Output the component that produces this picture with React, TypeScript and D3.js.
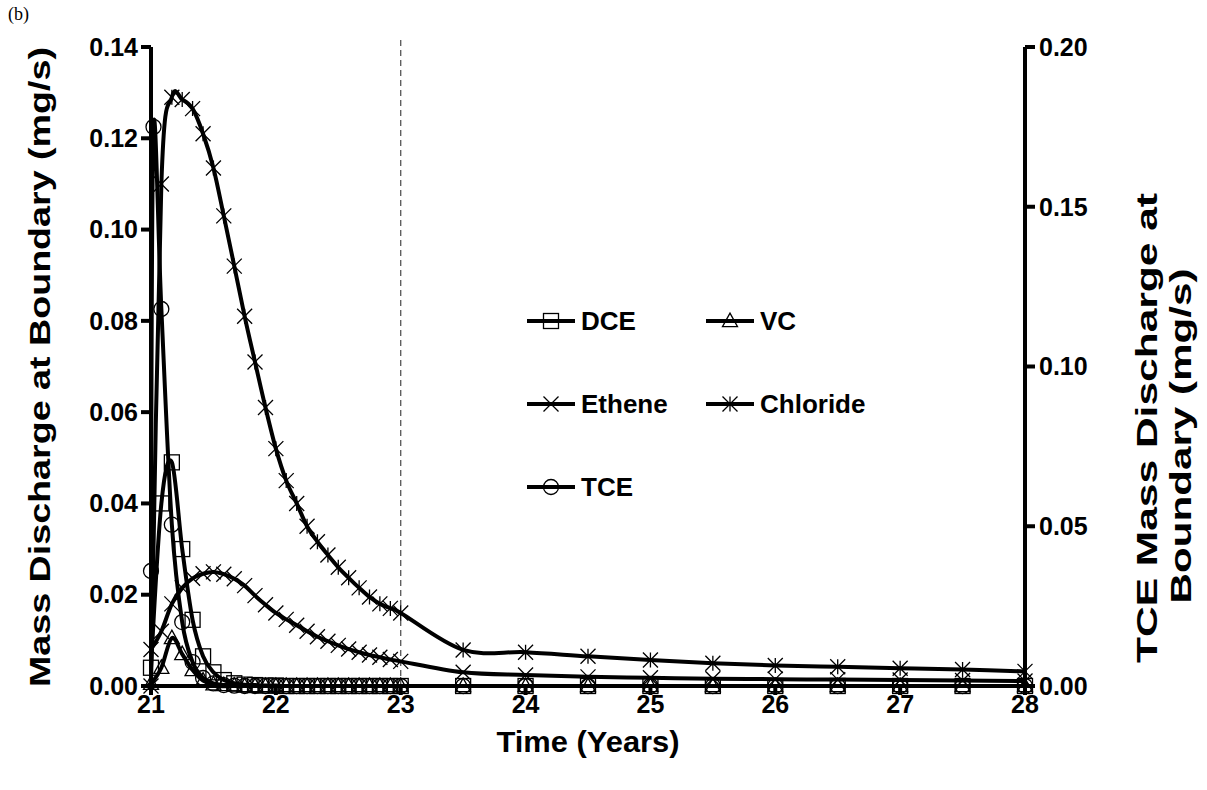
import React from 'react';
import * as d3 from 'd3';

const W = 1207;
const H = 790;

// Time grid (years) shared by DCE, VC, Ethene, Chloride
const times = [21.0, 21.083, 21.167, 21.25, 21.333, 21.417, 21.5, 21.583, 21.667, 21.75, 21.833, 21.917,
  22.0, 22.083, 22.167, 22.25, 22.333, 22.417, 22.5, 22.583, 22.667, 22.75, 22.833, 22.917, 23.0,
  23.5, 24.0, 24.5, 25.0, 25.5, 26.0, 26.5, 27.0, 27.5, 28.0];

const dce = [0.004, 0.040, 0.049, 0.030, 0.0145, 0.0065, 0.003, 0.0013, 0.0006, 0.0003, 0.0002, 0.0001,
  0.0001, 0, 0, 0, 0, 0, 0, 0, 0, 0, 0, 0, 0,
  0, 0, 0, 0, 0, 0, 0, 0, 0, 0];

const vc = [0.0005, 0.004, 0.0105, 0.007, 0.0035, 0.0012, 0.0004, 0.0002, 0.0001, 0, 0, 0,
  0, 0, 0, 0, 0, 0, 0, 0, 0, 0, 0, 0, 0,
  0, 0, 0, 0, 0, 0, 0, 0, 0, 0];

const ethene = [0.008, 0.012, 0.018, 0.0215, 0.0236, 0.0246, 0.025, 0.0245, 0.0235, 0.022, 0.0198, 0.0178,
  0.016, 0.0146, 0.0133, 0.012, 0.0108, 0.0098, 0.0089, 0.0081, 0.0074, 0.0068, 0.0063, 0.0058, 0.0054,
  0.003, 0.0024, 0.002, 0.0018, 0.0016, 0.0015, 0.0014, 0.0013, 0.0012, 0.0011];

const chloride = [0.0, 0.110, 0.129, 0.1285, 0.1265, 0.121, 0.1135, 0.103, 0.092, 0.081, 0.071, 0.061,
  0.052, 0.045, 0.040, 0.035, 0.0316, 0.0287, 0.026, 0.0237, 0.0215, 0.0195, 0.018, 0.017, 0.016,
  0.0079, 0.0074, 0.0065, 0.0057, 0.005, 0.0045, 0.0042, 0.0039, 0.0036, 0.0032];

// TCE (right axis) has one extra early sample
const tceTimes = [21.0, 21.02, 21.083, 21.167, 21.25, 21.333, 21.417, 21.5, 21.583, 21.667, 21.75, 21.833, 21.917,
  22.0, 22.083, 22.167, 22.25, 22.333, 22.417, 22.5, 22.583, 22.667, 22.75, 22.833, 22.917, 23.0,
  23.5, 24.0, 24.5, 25.0, 25.5, 26.0, 26.5, 27.0, 27.5, 28.0];
const tce = [0.036, 0.175, 0.118, 0.0505, 0.020, 0.0075, 0.0025, 0.0008, 0.0003, 0.0001, 0, 0, 0,
  0, 0, 0, 0, 0, 0, 0, 0, 0, 0, 0, 0, 0,
  0, 0, 0, 0, 0, 0, 0, 0, 0, 0];

const xTicks = [21, 22, 23, 24, 25, 26, 27, 28];
const yLeftTicks = [0, 0.02, 0.04, 0.06, 0.08, 0.10, 0.12, 0.14];
const yRightTicks = [0, 0.05, 0.10, 0.15, 0.20];
const dashedAt = 23;

type MarkerType = 'square' | 'triangle' | 'x' | 'asterisk' | 'circle';

const FONT = '"Liberation Sans", Arial, sans-serif';

function Marker({ type, cx, cy, s }: { type: MarkerType; cx: number; cy: number; s: number }) {
  const h = s / 2;
  const common = { fill: 'none', stroke: '#000', strokeWidth: 1.3 };
  switch (type) {
    case 'square':
      return <rect x={cx - h} y={cy - h} width={s} height={s} {...common} />;
    case 'circle':
      return <circle cx={cx} cy={cy} r={h} {...common} />;
    case 'triangle':
      return <polygon points={`${cx},${cy - h * 1.05} ${cx - h},${cy + h * 0.75} ${cx + h},${cy + h * 0.75}`} {...common} />;
    case 'x':
      return <path d={`M${cx - h},${cy - h}L${cx + h},${cy + h}M${cx - h},${cy + h}L${cx + h},${cy - h}`} {...common} />;
    case 'asterisk':
      return <path d={`M${cx - h},${cy - h}L${cx + h},${cy + h}M${cx - h},${cy + h}L${cx + h},${cy - h}M${cx},${cy - h}L${cx},${cy + h}`} {...common} />;
  }
  return null;
}

export default function App() {
  const x = d3.scaleLinear().domain([21, 28]).range([151, 1025]);
  const yL = d3.scaleLinear().domain([0, 0.14]).range([686, 47]);
  const yR = d3.scaleLinear().domain([0, 0.2]).range([686, 47]);

  const mkLine = (ts: number[], vs: number[], ys: d3.ScaleLinear<number, number>) =>
    d3.line<number>()
      .x((_, i) => x(ts[i]))
      .y((d) => ys(d))
      .curve(d3.curveCardinal.tension(0))(vs) || '';

  const series: { name: string; type: MarkerType; ts: number[]; vs: number[]; ys: d3.ScaleLinear<number, number> }[] = [
    { name: 'DCE', type: 'square', ts: times, vs: dce, ys: yL },
    { name: 'VC', type: 'triangle', ts: times, vs: vc, ys: yL },
    { name: 'Ethene', type: 'x', ts: times, vs: ethene, ys: yL },
    { name: 'Chloride', type: 'asterisk', ts: times, vs: chloride, ys: yL },
    { name: 'TCE', type: 'circle', ts: tceTimes, vs: tce, ys: yR },
  ];

  const legendPos = [
    { lx: 527, ly: 321 },
    { lx: 706, ly: 321 },
    { lx: 527, ly: 404 },
    { lx: 706, ly: 404 },
    { lx: 527, ly: 487 },
  ];

  const fmt = d3.format('.2f');
  const axisW = 4;
  const x0 = x(21), x1 = x(28), yb = yL(0), yt = yL(0.14);

  return (
    <svg width={W} height={H} style={{ position: 'absolute', left: 0, top: 0, background: '#fff' }}
      fontFamily={FONT}>
      <rect x={0} y={0} width={W} height={H} fill="#fff" />
      <text x={8} y={20} fontFamily='"Liberation Serif", "Times New Roman", serif' fontSize={18}>(b)</text>

      {/* dashed vertical line */}
      <line x1={x(dashedAt)} x2={x(dashedAt)} y1={40} y2={yb} stroke="#555" strokeWidth={1.3} strokeDasharray="6,4" />

      {/* series lines */}
      {series.map((s) => (
        <path key={s.name} d={mkLine(s.ts, s.vs, s.ys)} fill="none" stroke="#000" strokeWidth={4} strokeLinejoin="round" />
      ))}
      {/* markers */}
      {series.map((s) => (
        <g key={s.name + 'm'}>
          {s.vs.map((v, i) => (
            <Marker key={i} type={s.type} cx={x(s.ts[i])} cy={s.ys(v)} s={15} />
          ))}
        </g>
      ))}

      {/* axes */}
      <line x1={x0} x2={x0} y1={yt} y2={yb + axisW / 2} stroke="#000" strokeWidth={axisW} />
      <line x1={x1} x2={x1} y1={yt} y2={yb + axisW / 2} stroke="#000" strokeWidth={axisW} />
      <line x1={x0} x2={x1} y1={yb} y2={yb} stroke="#000" strokeWidth={axisW} />

      {yLeftTicks.map((t) => (
        <g key={'l' + t}>
          <line x1={x0 - 10} x2={x0} y1={yL(t)} y2={yL(t)} stroke="#000" strokeWidth={axisW} />
          <text x={x0 - 13} y={yL(t)} dy="0.35em" textAnchor="end" fontSize={25} fontWeight="bold">{fmt(t)}</text>
        </g>
      ))}
      {yRightTicks.map((t) => (
        <g key={'r' + t}>
          <line x1={x1} x2={x1 + 10} y1={yR(t)} y2={yR(t)} stroke="#000" strokeWidth={axisW} />
          <text x={x1 + 14} y={yR(t)} dy="0.35em" textAnchor="start" fontSize={25} fontWeight="bold">{fmt(t)}</text>
        </g>
      ))}
      {xTicks.map((t) => (
        <g key={'x' + t}>
          <line x1={x(t)} x2={x(t)} y1={yb} y2={yb + 9} stroke="#000" strokeWidth={axisW} />
          <text x={x(t)} y={704} dy="0.35em" textAnchor="middle" fontSize={25} fontWeight="bold">{t}</text>
        </g>
      ))}

      {/* axis titles */}
      <text x={588} y={742} dy="0.35em" textAnchor="middle" fontSize={29} fontWeight="bold"
        textLength={183} lengthAdjust="spacingAndGlyphs">Time (Years)</text>
      <text transform="translate(40,367) rotate(-90)" dy="0.35em" textAnchor="middle" fontSize={29} fontWeight="bold"
        textLength={640} lengthAdjust="spacingAndGlyphs">
        Mass Discharge at Boundary (mg/s)
      </text>
      <text transform="translate(1147,428) rotate(-90)" dy="0.35em" textAnchor="middle" fontSize={29} fontWeight="bold"
        textLength={470} lengthAdjust="spacingAndGlyphs">
        TCE Mass Discharge at
      </text>
      <text transform="translate(1181,436) rotate(-90)" dy="0.35em" textAnchor="middle" fontSize={29} fontWeight="bold"
        textLength={335} lengthAdjust="spacingAndGlyphs">
        Boundary (mg/s)
      </text>

      {/* legend */}
      {series.map((s, i) => {
        const p = legendPos[i];
        return (
          <g key={'lg' + s.name}>
            <line x1={p.lx} x2={p.lx + 48} y1={p.ly} y2={p.ly} stroke="#000" strokeWidth={4} />
            <Marker type={s.type} cx={p.lx + 24} cy={p.ly} s={15} />
            <text x={p.lx + 54} y={p.ly} dy="0.35em" fontSize={26} fontWeight="bold">{s.name}</text>
          </g>
        );
      })}
    </svg>
  );
}
